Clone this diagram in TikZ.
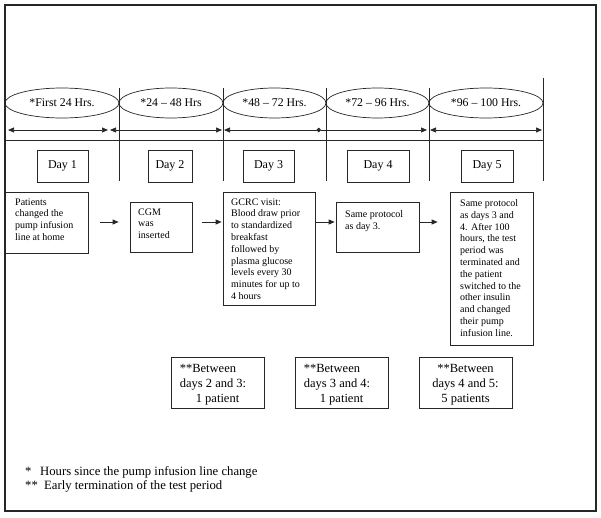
\documentclass[tikz,border=0pt]{standalone}
\usepackage{fontspec}
\setmainfont{Liberation Serif}
\usetikzlibrary{shapes.geometric,arrows.meta}
\begin{document}
\begin{tikzpicture}[x=1pt,y=-1pt,
  ln/.style={line width=0.7pt, draw=black!85},
  frame/.style={line width=1.1pt, draw=black!85},
  oval/.style={draw, ln, ellipse, inner sep=0, minimum height=30pt, font=\fontsize{11.8}{13}\selectfont},
  daybox/.style={draw, ln, rectangle, inner sep=0, minimum height=32pt, font=\fontsize{12}{14}\selectfont},
  txtbox/.style={draw, ln, rectangle, inner sep=0},
  txt/.style={anchor=north west, align=left, inner sep=0, font=\fontsize{10}{11.8}\selectfont},
  notebox/.style={draw, ln, rectangle, inner sep=0, minimum width=93pt, minimum height=51pt},
  notetxt/.style={inner sep=0, font=\fontsize{12.5}{15}\selectfont},
  foot/.style={anchor=base west, inner sep=0, font=\fontsize{12.7}{14}\selectfont},
  tri/.tip={Triangle[length=6pt,width=5pt]},
  arr/.style={ln, -{Triangle[length=6pt,width=5pt]}}
]
\useasboundingbox (0,0) rectangle (601,518);
% outer frame
\draw[frame] (5,5) rectangle (596,511);

% ellipses (time periods)
\node[oval, minimum width=114pt] (e1) at (62,103) {*First 24 Hrs.};
\node[oval, minimum width=104pt] (e2) at (171,103) {*24 – 48 Hrs};
\node[oval, minimum width=103pt] (e3) at (274.5,103) {*48 – 72 Hrs.};
\node[oval, minimum width=103pt] (e4) at (377.5,103) {*72 – 96 Hrs.};
\node[oval, minimum width=114pt] (e5) at (486,103) {*96 – 100 Hrs.};

% vertical separators and horizontal rule
\draw[ln] (119,88) -- (119,181);
\draw[ln] (223,88) -- (223,181);
\draw[ln] (326,88) -- (326,181);
\draw[ln] (429,88) -- (429,181);
\draw[ln] (543,78) -- (543,181);
\draw[ln] (5,140) -- (543,140);

% timeline arrows
\coordinate (t0) at (8,130);
\coordinate (t1a) at (108,130);
\coordinate (t1b) at (110,130);
\coordinate (t2a) at (222,130);
\coordinate (t2b) at (224,130);
\coordinate (t3) at (321,130);
\coordinate (t4a) at (427,130);
\coordinate (t4b) at (430,130);
\coordinate (t5) at (542,130);
\draw[ln, tri-tri] (t0) -- (t1a);
\draw[ln, tri-tri] (t1b) -- (t2a);
\draw[ln, tri-{Circle[length=4.5pt]}] (t2b) -- (t3);
\draw[ln, -tri] (t3) -- (t4a);
\draw[ln, tri-tri] (t4b) -- (t5);

% day boxes
\node[daybox, minimum width=51pt] (d1) at (62.5,166) {Day 1};
\node[daybox, minimum width=44pt] (d2) at (170,166) {Day 2};
\node[daybox, minimum width=51pt] (d3) at (268.5,166) {Day 3};
\node[daybox, minimum width=62pt] (d4) at (378,166) {Day 4};
\node[daybox, minimum width=52pt] (d5) at (487,166) {Day 5};

% text boxes
\node[txtbox, minimum width=83pt, minimum height=61pt] (b1) at (46.5,222.5) {};
\node[txtbox, minimum width=62pt, minimum height=50pt] (b2) at (161,227) {};
\node[txtbox, minimum width=92pt, minimum height=113pt] (b3) at (269,248.5) {};
\node[txtbox, minimum width=83pt, minimum height=50pt] (b4) at (377.5,227) {};
\node[txtbox, minimum width=83pt, minimum height=153pt] (b5) at (491.5,268.5) {};

\node[txt] (x1) at (15,198.3) {Patients\\changed the\\pump infusion\\line at home};
\node[txt] (x2) at (138,208.3) {CGM\\was\\inserted};
\node[txt] (x3) at (231,198.3) {GCRC visit:\\Blood draw prior\\to standardized\\breakfast\\followed by\\plasma glucose\\levels every 30\\minutes for up to\\4 hours};
\node[txt] (x4) at (345,210.3) {Same protocol\\as day 3.};
\node[txt] (x5) at (460,199.3) {Same protocol\\as days 3 and\\4. After 100\\hours, the test\\period was\\terminated and\\the patient\\switched to the\\other insulin\\and changed\\their pump\\infusion line.};

% arrows between text boxes
\coordinate (ar) at (0,222);
\draw[arr, shorten <=12pt, shorten >=11pt] (b1.east |- ar) -- (b2.west |- ar);
\draw[arr, shorten <=10pt, shorten >=1pt] (b2.east |- ar) -- (b3.west |- ar);
\draw[arr, shorten <=0pt, shorten >=1pt] (b3.east |- ar) -- (b4.west |- ar);
\draw[arr, shorten <=1pt, shorten >=12pt] (b4.east |- ar) -- (b5.west |- ar);

% early termination boxes
\node[notebox] (c1) at (217.5,382.5) {};
\node[notebox] (c2) at (341.5,382.5) {};
\node[notebox] (c3) at (465.5,382.5) {};
\node[notetxt, align=left, anchor=west] (n1) at ([xshift=9pt,yshift=-2pt]c1.west) {**Between\\days 2 and 3:\\\hspace*{16pt}1 patient};
\node[notetxt, align=left, anchor=west] (n2) at ([xshift=9pt,yshift=-2pt]c2.west) {**Between\\days 3 and 4:\\\hspace*{16pt}1 patient};
\node[notetxt, align=center] (n3) at ([yshift=-2pt]c3.center) {**Between\\days 4 and 5:\\5 patients};

% footnotes
\node[foot] (f1) at (25,475) {*};
\node[foot] (f1t) at (40,475) {Hours since the pump infusion line change};
\node[foot] (f2) at (25,489) {**};
\node[foot] (f2t) at (44,489) {Early termination of the test period};
\end{tikzpicture}
\end{document}
